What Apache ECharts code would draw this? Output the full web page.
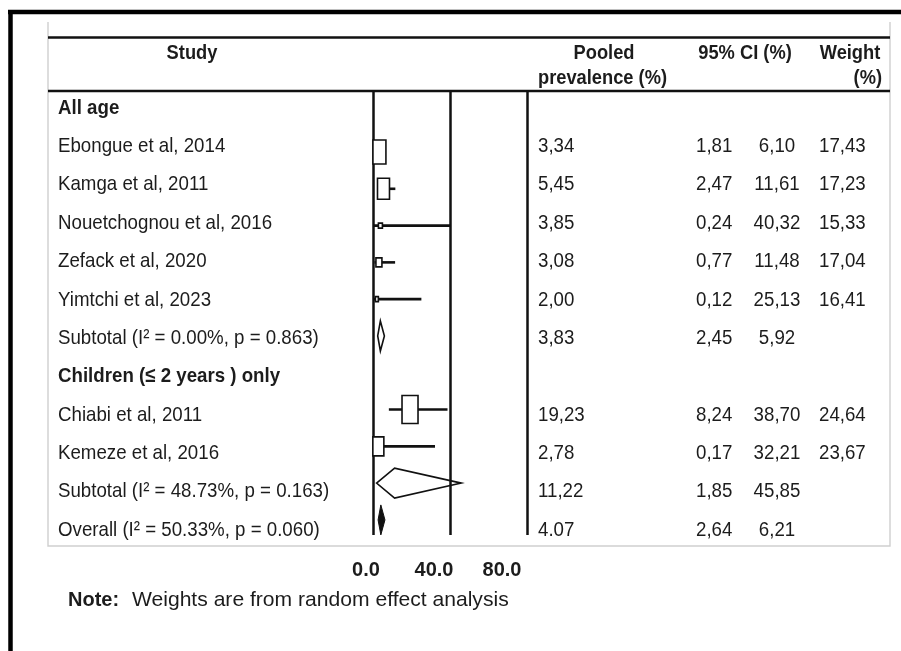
<!DOCTYPE html>
<html><head><meta charset="utf-8">
<script src="https://cdn.jsdelivr.net/npm/echarts@6/dist/echarts.min.js"></script>
<style>html,body{margin:0;padding:0;background:#fff}#c{width:901px;height:651px}</style>
</head><body><div id="c"></div>
<script>
// ---------------- data ----------------
const rowLabels = [
  'All age',
  'Ebongue et al, 2014',
  'Kamga et al, 2011',
  'Nouetchognou et al, 2016',
  'Zefack et al, 2020',
  'Yimtchi et al, 2023',
  'Subtotal (I\u00B2 = 0.00%, p = 0.863)',
  'Children (\u2264 2 years ) only',
  'Chiabi et al, 2011',
  'Kemeze et al, 2016',
  'Subtotal (I\u00B2 = 48.73%, p = 0.163)',
  'Overall (I\u00B2 = 50.33%, p = 0.060)'
];
const rowKinds = ['group','study','study','study','study','study','subtotal','group','study','study','subtotal','overall'];
const pooled  = [null, 3.34, 5.45, 3.85, 3.08, 2.00, 3.83, null, 19.23, 2.78, 11.22, 4.07];
const ciLow   = [null, 1.81, 2.47, 0.24, 0.77, 0.12, 2.45, null, 8.24, 0.17, 1.85, 2.64];
const ciHigh  = [null, 6.10, 11.61, 40.32, 11.48, 25.13, 5.92, null, 38.70, 32.21, 45.85, 6.21];
const weights = [null, 17.43, 17.23, 15.33, 17.04, 16.41, null, null, 24.64, 23.67, null, null];
const axisTicks = [0, 40, 80];
const tickLabels = ['0.0', '40.0', '80.0'];
const headerTexts = ['Study', 'Pooled', 'prevalence (%)', '95% CI (%)', 'Weight', '(%)'];
const noteBold = 'Note:';
const noteText = ' Weights are from random effect analysis';

// ---------------- style ----------------
const FONT = '"Liberation Sans", Arial, Helvetica, sans-serif';
const INK = '#1c1c1c';
const LINE = '#111';
const TXT_SCALE_Y = 1.12;   // reference table text is vertically stretched
// box marker size in px [w, h] per row (as drawn in reference)
const boxPx = [null, [13,24], [12,21], [4,5], [6,9], [3,5], null, null, [16,28], [11,19], null, null];
const diamondHalfH = 15;
// column anchor x (pixels) in text grid
const COL = { study: 58, pooled: 538, lo: 696, hi: 777, w: 819 };

function fmt(v, sep) { return v.toFixed(2).replace('.', sep); }

const chart = echarts.init(document.getElementById('c'), null, {renderer: 'canvas'});

const textItems = rowLabels.map((_, i) => [0, i]);

function headerText(txt, x, y, align) {
  return {type: 'text', silent: true, x: x, y: y, scaleY: 1.06,
    style: {text: txt, x: 0, y: 0, align: align, verticalAlign: 'middle',
      fontSize: 18.3, fontWeight: 'bold', fontFamily: FONT, fill: INK}};
}

const option = {
  animation: false,
  backgroundColor: '#fff',
  grid: [
    {left: 48, top: 91, width: 842, height: 455},
    {left: 373, top: 91, width: 154, height: 444},
    {left: 366, top: 550, width: 136, height: 5}
  ],
  xAxis: [
    {gridIndex: 0, type: 'value', min: 48, max: 890, show: false},
    {gridIndex: 1, type: 'value', min: 0, max: 80, interval: 40,
      axisLine: {show: false}, axisTick: {show: false}, axisLabel: {show: false},
      splitLine: {show: true, lineStyle: {color: LINE, width: 2.5}}},
    {gridIndex: 2, type: 'value', min: 0, max: 80, interval: 40, position: 'bottom',
      axisLine: {show: false}, axisTick: {show: false}, splitLine: {show: false},
      axisLabel: {show: true, margin: 5, fontSize: 20, fontWeight: 'bold', color: INK, fontFamily: FONT,
        formatter: v => tickLabels[axisTicks.indexOf(v)]}}
  ],
  yAxis: [
    {gridIndex: 0, type: 'value', inverse: true, min: -0.443, max: 11.418, show: false},
    {gridIndex: 1, type: 'value', inverse: true, min: -0.658, max: 11.41, show: false},
    {gridIndex: 2, type: 'value', min: 0, max: 1, show: false}
  ],
  series: [
    {
      type: 'custom', xAxisIndex: 0, yAxisIndex: 0, silent: true,
      data: textItems,
      renderItem: function (params, api) {
        const i = api.value(1);
        const kind = rowKinds[i];
        const y = api.coord([48, i])[1];
        const children = [];
        const mk = (txt, x, align, bold) => ({
          type: 'text', x: x, y: y, scaleY: TXT_SCALE_Y,
          style: {text: txt, x: 0, y: 0, align: align, verticalAlign: 'middle',
            fontSize: 18.7, fontFamily: FONT, fontWeight: bold ? 'bold' : 'normal', fill: INK}
        });
        children.push(mk(rowLabels[i], api.coord([COL.study, i])[0], 'left', kind === 'group'));
        if (pooled[i] != null) {
          children.push(mk(fmt(pooled[i], kind === 'overall' ? '.' : ','), api.coord([COL.pooled, i])[0], 'left'));
          children.push(mk(fmt(ciLow[i], ','), api.coord([COL.lo, i])[0], 'left'));
          children.push(mk(fmt(ciHigh[i], ','), api.coord([COL.hi, i])[0], 'center'));
        }
        if (weights[i] != null) {
          children.push(mk(fmt(weights[i], ','), api.coord([COL.w, i])[0], 'left'));
        }
        return {type: 'group', children: children};
      }
    },
    {
      type: 'custom', xAxisIndex: 1, yAxisIndex: 1, silent: true, clip: false,
      data: pooled.map((v, i) => [v, i]).filter(d => d[0] != null),
      renderItem: function (params, api) {
        const i = api.value(1);
        const kind = rowKinds[i];
        const c = api.coord([pooled[i], i]);
        const l = api.coord([ciLow[i], i]);
        const h = api.coord([ciHigh[i], i]);
        if (kind === 'study') {
          const s = boxPx[i];
          return {type: 'group', children: [
            {type: 'line', shape: {x1: l[0], y1: c[1], x2: h[0], y2: c[1]},
              style: {stroke: LINE, lineWidth: 2.6}},
            {type: 'rect', shape: {x: c[0] - s[0] / 2, y: c[1] - s[1] / 2, width: s[0], height: s[1]},
              style: {fill: '#fff', stroke: LINE, lineWidth: 1.6}}
          ]};
        }
        const pts = [[l[0], c[1]], [c[0], c[1] - diamondHalfH], [h[0], c[1]], [c[0], c[1] + diamondHalfH]];
        return {type: 'polygon', shape: {points: pts},
          style: kind === 'overall' ? {fill: LINE, stroke: LINE, lineWidth: 1}
                                     : {fill: 'rgba(255,255,255,0)', stroke: LINE, lineWidth: 1.6}};
      }
    }
  ],
  graphic: [
    // outer frame (top + left)
    {type: 'line', silent: true, shape: {x1: 8, y1: 12, x2: 901, y2: 12}, style: {stroke: '#000', lineWidth: 4.5}},
    {type: 'line', silent: true, shape: {x1: 10.5, y1: 10, x2: 10.5, y2: 651}, style: {stroke: '#000', lineWidth: 4.5}},
    // inner table borders (light)
    {type: 'polyline', silent: true, shape: {points: [[48, 22], [48, 546], [890, 546], [890, 22]]},
      style: {stroke: '#cfcfcf', lineWidth: 1.4, fill: null}},
    // header rules
    {type: 'line', silent: true, shape: {x1: 48, y1: 37.5, x2: 890, y2: 37.5}, style: {stroke: LINE, lineWidth: 2.6}},
    {type: 'line', silent: true, shape: {x1: 48, y1: 91, x2: 890, y2: 91}, style: {stroke: LINE, lineWidth: 2.6}},
    // header texts
    headerText(headerTexts[0], 192, 54, 'center'),
    headerText(headerTexts[1], 604, 54, 'center'),
    headerText(headerTexts[2], 602.5, 79, 'center'),
    headerText(headerTexts[3], 745, 54, 'center'),
    headerText(headerTexts[4], 850, 54, 'center'),
    headerText(headerTexts[5], 882, 79, 'right'),
    // note
    {type: 'text', silent: true, style: {
      text: '{b|' + noteBold + '}{r|' + noteText + '}', x: 68, y: 600, align: 'left', verticalAlign: 'middle',
      rich: {b: {fontSize: 20, fontWeight: 'bold', fontFamily: FONT, fill: INK, color: INK},
             r: {fontSize: 21.1, fontFamily: FONT, fill: INK, color: INK, padding: [0, 0, 0, 7]}}}}
  ]
};
chart.setOption(option);
</script>
</body></html>
